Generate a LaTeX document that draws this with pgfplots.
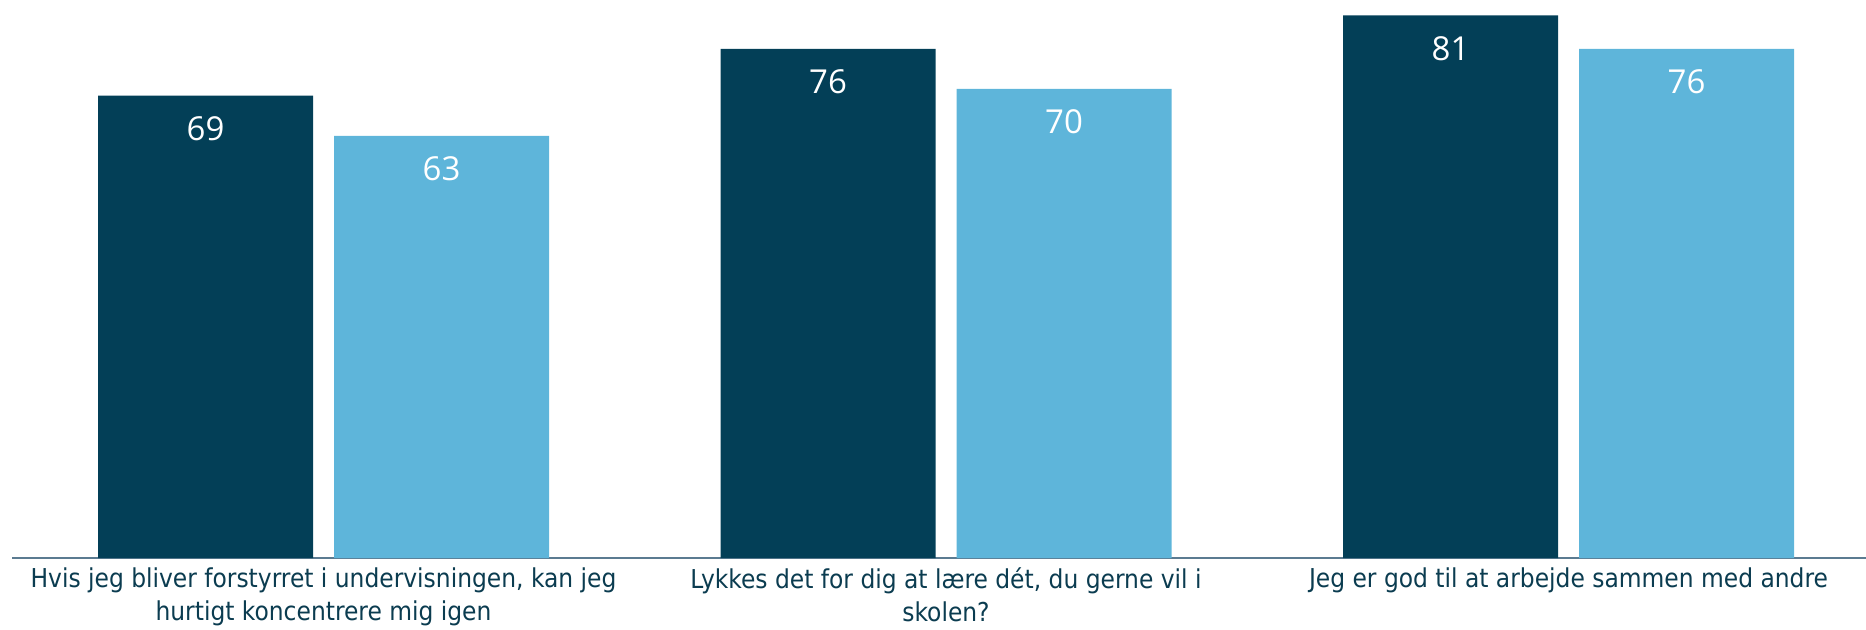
\documentclass[border=0pt]{standalone}
\usepackage{pgfplots}
\pgfplotsset{compat=1.18}
\usepackage{fontspec}
\setmainfont{DejaVu Sans Condensed}
\newfontfamily\numfont{Open Sans}
\definecolor{darkbar}{HTML}{033F57}
\definecolor{lightbar}{HTML}{5EB5DA}
\definecolor{txt}{HTML}{0B3C50}
\definecolor{axisc}{HTML}{5B7B91}
\begin{document}
\begin{tikzpicture}
\useasboundingbox (-6.125pt,-35.5pt) rectangle (926.875pt,279pt);
\begin{axis}[
 x=311.25pt, y=3.35pt,
 xmin=-0.5, xmax=2.478, ymin=0, ymax=83.28,
 axis x line=bottom, axis y line=none,
 axis line style={-},
 x axis line style={draw=axisc, line width=0.8pt},
 ybar=10.5pt, bar width=107.5pt,
 xtick={0,1,2},
 xticklabels={{Hvis jeg bliver forstyrret i undervisningen, kan jeg\\hurtigt koncentrere mig igen},{Lykkes det for dig at lære dét, du gerne vil i\\skolen?},{Jeg er god til at arbejde sammen med andre}},
 major tick length=0pt,
 xticklabel style={font=\fontsize{13}{16.2}\selectfont, text=txt, align=center, anchor=north, yshift=-1.5pt},
 nodes near coords={\pgfmathprintnumber[assume math mode=true]{\pgfplotspointmeta}},
 every node near coord/.append style={font=\numfont\fontsize{16.5}{20}\selectfont, text=white, anchor=center, yshift=-16.5pt},
 clip=false,
]
\addplot[fill=darkbar, draw=none] coordinates {(0,69) (1,76) (2,81)};
\addplot[fill=lightbar, draw=none] coordinates {(0,63) (1,70) (2,76)};
\end{axis}
\end{tikzpicture}
\end{document}
